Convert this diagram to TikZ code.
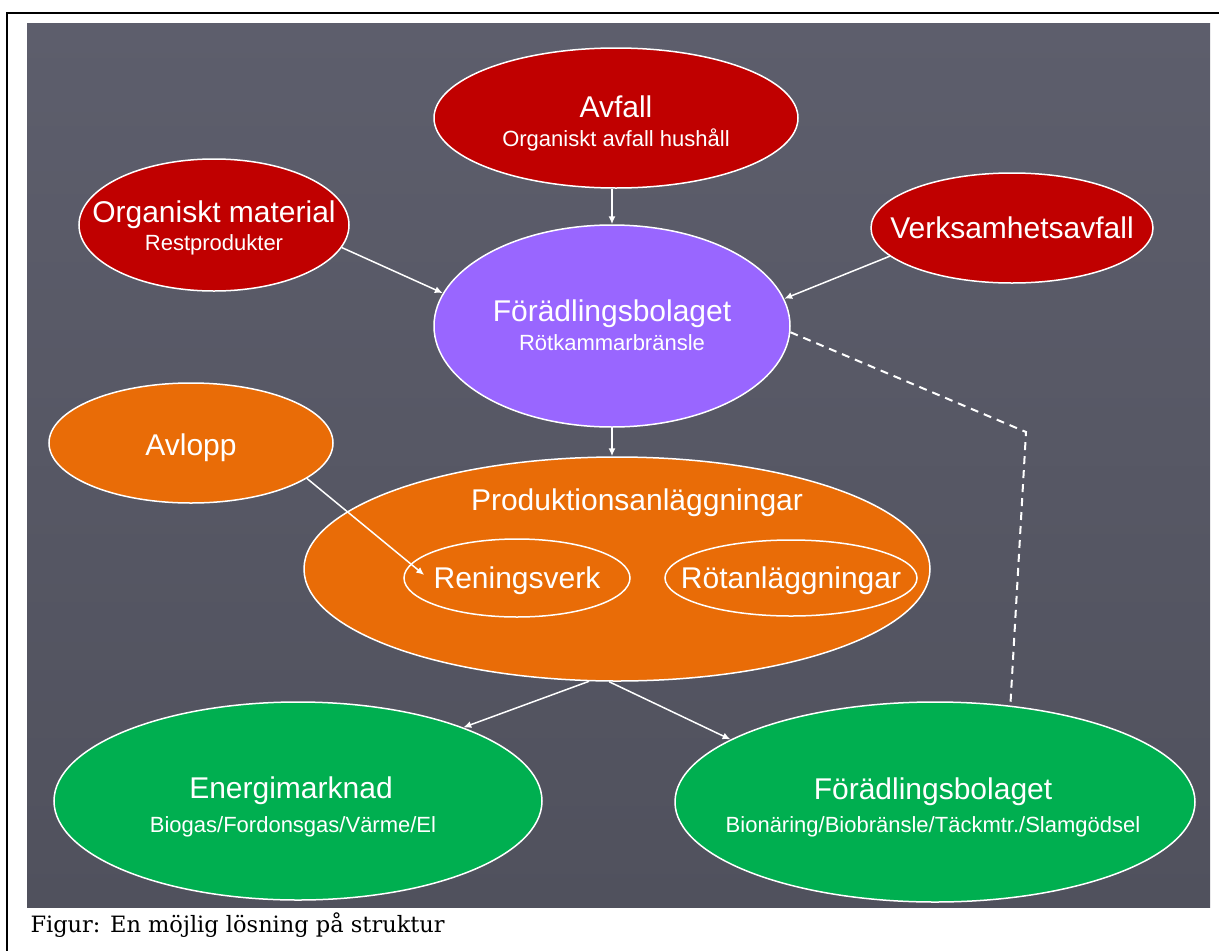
\documentclass[tikz,border=0pt]{standalone}
\usepackage{fontspec}
\setmainfont{Liberation Sans}
\newfontfamily\capfont{DejaVu Serif}
\usetikzlibrary{arrows.meta,shapes.geometric}

\definecolor{slidetop}{HTML}{5D5E6C}
\definecolor{slidebot}{HTML}{50515D}
\definecolor{wastered}{HTML}{C00000}
\definecolor{refinepurple}{HTML}{9966FF}
\definecolor{plantorange}{HTML}{E96C07}
\definecolor{marketgreen}{HTML}{00AF50}

\begin{document}
\begin{tikzpicture}[x=1pt,y=-1pt,
    blob/.style={ellipse,draw=white,line width=1.5pt,inner sep=0pt},
    redblob/.style={blob,fill=wastered},
    purpleblob/.style={blob,fill=refinepurple},
    orangeblob/.style={blob,fill=plantorange},
    greenblob/.style={blob,fill=marketgreen},
    title/.style={text=white,font=\fontsize{30}{36}\selectfont,anchor=base},
    sub/.style={text=white,font=\fontsize{22}{26}\selectfont,anchor=base},
    flow/.style={draw=white,line width=1.5pt,-{Latex[length=8pt,width=7pt]}},
    link/.style={draw=white,line width=2pt,dash pattern=on 8pt off 6pt}]
  \useasboundingbox (0,0) rectangle (1219,951);
  % Drawing frame and slide
  \draw[line width=2.5pt] (7,13) rectangle (1224,960);
  \fill[top color=slidetop,bottom color=slidebot] (27,23) rectangle (1210,907);
  % Drawing ellipses
  \node[redblob,minimum width=364pt,minimum height=140pt] (avfall) at (616,118) {};
  \node[redblob,minimum width=270pt,minimum height=132pt] (orgmat) at (214,225) {};
  \node[redblob,minimum width=282pt,minimum height=110pt] (verks) at (1012,228) {};
  \node[purpleblob,minimum width=356pt,minimum height=202pt] (foerP) at (612,326) {};
  \node[orangeblob,minimum width=284pt,minimum height=120pt] (avlopp) at (191,443) {};
  \node[orangeblob,minimum width=626pt,minimum height=224pt] (prod) at (617,569) {};
  \node[orangeblob,minimum width=226pt,minimum height=78pt] (rening) at (517,578) {};
  \node[orangeblob,minimum width=252pt,minimum height=76pt] (rotanl) at (791,578) {};
  \node[greenblob,minimum width=488pt,minimum height=198pt] (energi) at (298,801) {};
  \node[greenblob,minimum width=520pt,minimum height=200pt] (foerG) at (935,802) {};
  % Done with ellipses; drawing texts
  \node[title] (avfallT) at (616,117) {Avfall};
  \node[sub] (avfallS) at (616,146) {Organiskt avfall hushåll};
  \node[title] (orgmatT) at (214,222) {Organiskt material};
  \node[sub] (orgmatS) at (214,250) {Restprodukter};
  \node[title] (verksT) at (1012,238) {Verksamhetsavfall};
  \node[title] (foerPT) at (612,321) {Förädlingsbolaget};
  \node[sub] (foerPS) at (612,350) {Rötkammarbränsle};
  \node[title] (avloppT) at (191,455) {Avlopp};
  \node[title] (prodT) at (637,510) {Produktionsanläggningar};
  \node[title] (reningT) at (517,588) {Reningsverk};
  \node[title] (rotanlT) at (791,588) {Rötanläggningar};
  \node[title] (energiT) at (291,798) {Energimarknad};
  \node[sub] (energiS) at (293,832) {Biogas/Fordonsgas/Värme/El};
  \node[title] (foerGT) at (933,799) {Förädlingsbolaget};
  \node[sub] (foerGS) at (933,832) {Bionäring/Biobränsle/Täckmtr./Slamgödsel};
  % Done with texts; drawing arrows
  \draw[flow] (avfall.south -| foerP.north) -- (foerP.north);
  \draw[flow] (orgmat.-10) -- (foerP.169);
  \draw[flow] (verks.193) -- (foerP.9);
  \draw[flow] (foerP.south) -- (foerP.south |- prod.north);
  \draw[flow] (avlopp.-17) -- ([shift={(21,-3)}]rening.west);
  \draw[flow] (prod.256) -- (energi.24);
  \draw[flow] (prod.266) -- (foerG.163);
  \coordinate (bend) at (1026,432);
  \draw[link] (foerP.-2) -- (bend) -- (foerG.52);
  % Done with arrows; drawing caption
  \node[anchor=base west,font=\capfont\fontsize{22.5}{27}\selectfont] (caption) at (27,932) {Figur: En möjlig lösning på struktur};
\end{tikzpicture}
\end{document}
